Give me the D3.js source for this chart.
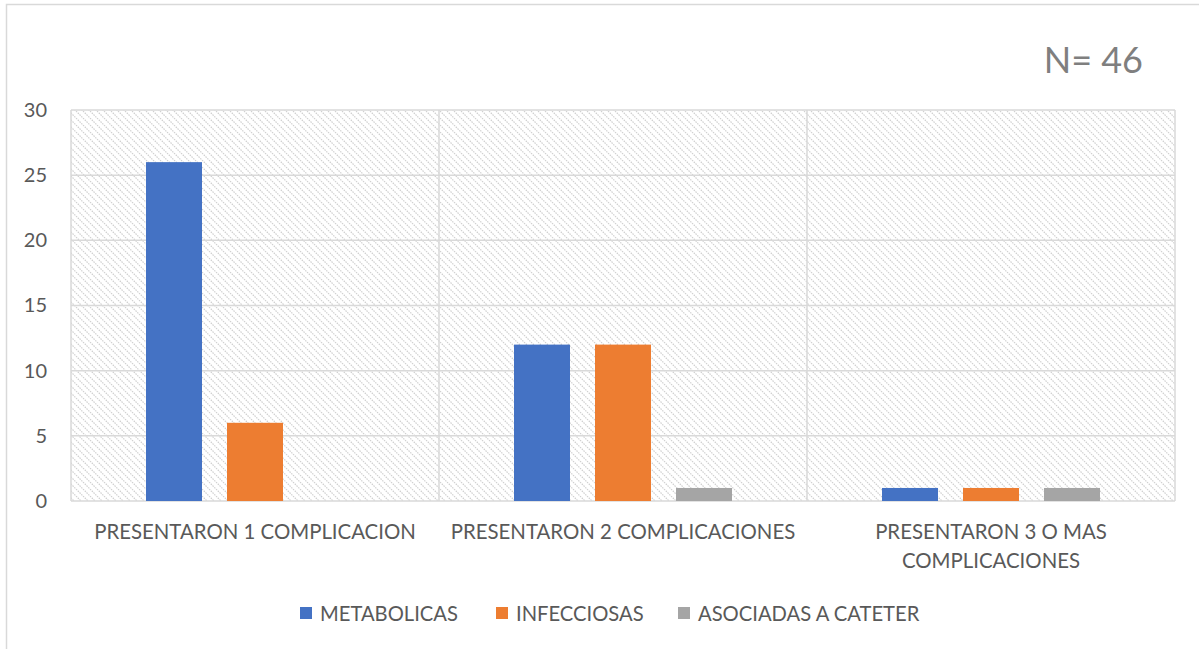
<!DOCTYPE html>
<html>
<head>
<meta charset="utf-8">
<script src="https://cdn.jsdelivr.net/npm/d3@7/dist/d3.min.js"></script>
<style>
  html, body { margin: 0; padding: 0; background: #fff; }
  svg { display: block; font-family: Lato, "Open Sans", sans-serif; }
</style>
</head>
<body>
<svg id="chart" width="1199" height="649"></svg>
<script>
// Complication counts by number of complications presented
const categories = [
  ["PRESENTARON 1 COMPLICACION"],
  ["PRESENTARON 2 COMPLICACIONES"],
  ["PRESENTARON 3 O MAS", "COMPLICACIONES"]
];
const seriesNames = ["METABOLICAS", "INFECCIOSAS", "ASOCIADAS A CATETER"];
const metabolicas = [26, 12, 1];
const infecciosas = [6, 12, 1];
const asociadasCateter = [0, 1, 1];
const yTicks = [0, 5, 10, 15, 20, 25, 30];
const sampleLabel = "N= 46";

const seriesValues = [metabolicas, infecciosas, asociadasCateter];
const colors = ["#4472C4", "#ED7D31", "#A5A5A5"];

const svg = d3.select("#chart");
const plot = { left: 71, right: 1175, top: 110, bottom: 501 };

// Outer chart frame
svg.append("rect")
  .attr("x", 6.5).attr("y", 4.5)
  .attr("width", 1230).attr("height", 700)
  .attr("fill", "#fff").attr("stroke", "#d9d9d9").attr("stroke-width", 1.5);

// Light downward diagonal fill for the plot area
const defs = svg.append("defs");
const pat = defs.append("pattern")
  .attr("id", "hatch").attr("patternUnits", "userSpaceOnUse")
  .attr("width", 7).attr("height", 7);
pat.append("rect").attr("width", 7).attr("height", 7).attr("fill", "#fff");
pat.append("path")
  .attr("d", "M-1,-1 L8,8 M-1,6 L1,8 M6,-1 L8,1")
  .attr("stroke", "#cfcfcf").attr("stroke-width", 1.2)
  .attr("stroke-dasharray", "1.5,1");

const x0 = d3.scaleBand()
  .domain(d3.range(categories.length))
  .range([plot.left, plot.right])
  .paddingInner(0).paddingOuter(0);

const x1 = d3.scaleBand()
  .domain(d3.range(seriesNames.length))
  .range([0, x0.bandwidth()])
  .paddingInner(25 / 81)
  .paddingOuter((75 + 12.5) / 81 - 0.5 * (25 / 81));

const y = d3.scaleLinear().domain([0, 30]).range([plot.bottom, plot.top]);

svg.append("rect")
  .attr("x", plot.left).attr("y", plot.top)
  .attr("width", plot.right - plot.left).attr("height", plot.bottom - plot.top)
  .attr("fill", "url(#hatch)");

// Horizontal gridlines
svg.append("g")
  .selectAll("line").data(yTicks).join("line")
  .attr("x1", plot.left).attr("x2", plot.right)
  .attr("y1", d => y(d)).attr("y2", d => y(d))
  .attr("stroke", "#d9d9d9").attr("stroke-width", 1.5);

// Vertical category separators and plot frame
svg.append("g")
  .selectAll("line").data(d3.range(categories.length + 1)).join("line")
  .attr("x1", i => i < categories.length ? x0(i) : plot.right)
  .attr("x2", i => i < categories.length ? x0(i) : plot.right)
  .attr("y1", plot.top).attr("y2", plot.bottom)
  .attr("stroke", "#d9d9d9").attr("stroke-width", 1.5);

// Bars
const groups = svg.append("g")
  .selectAll("g").data(categories.map((c, i) => i)).join("g")
  .attr("transform", i => `translate(${x0(i)},0)`);

groups.selectAll("rect")
  .data(i => seriesValues.map((vals, s) => ({ s, v: vals[i] })))
  .join("rect")
  .attr("x", d => x1(d.s))
  .attr("width", x1.bandwidth())
  .attr("y", d => y(d.v))
  .attr("height", d => y(0) - y(d.v))
  .attr("fill", d => colors[d.s]);

// Y axis labels
const yAxis = d3.axisLeft(y).tickValues(yTicks).tickSize(0).tickPadding(0);
const yg = svg.append("g").attr("transform", `translate(47,0)`).call(yAxis);
yg.select(".domain").remove();
yg.selectAll("text")
  .attr("font-family", "Lato, sans-serif")
  .attr("font-size", 20).attr("fill", "#595959");

// Category labels
const cl = svg.append("g")
  .selectAll("text").data(categories.map((c, i) => i)).join("text")
  .attr("text-anchor", "middle")
  .attr("font-size", 20.4).attr("fill", "#595959");
cl.selectAll("tspan")
  .data(i => categories[i].map(line => ({ i, line })))
  .join("tspan")
  .attr("x", d => x0(d.i) + x0.bandwidth() / 2)
  .attr("y", (d, k) => 539 + k * 29)
  .text(d => d.line);

// Sample size label
svg.append("text")
  .attr("x", 1143).attr("y", 73)
  .attr("text-anchor", "end")
  .attr("font-size", 36).attr("fill", "#7f7f7f")
  .text(sampleLabel);

// Legend
const legendX = [300, 496, 678];
const lg = svg.append("g")
  .selectAll("g").data(seriesNames.map((n, i) => i)).join("g")
  .attr("transform", i => `translate(${legendX[i]},607)`);
lg.append("rect").attr("width", 12).attr("height", 12).attr("fill", i => colors[i]);
lg.append("text")
  .attr("x", 20).attr("y", 13.5)
  .attr("font-size", 20.2).attr("fill", "#595959")
  .text(i => seriesNames[i]);
</script>
</body>
</html>
